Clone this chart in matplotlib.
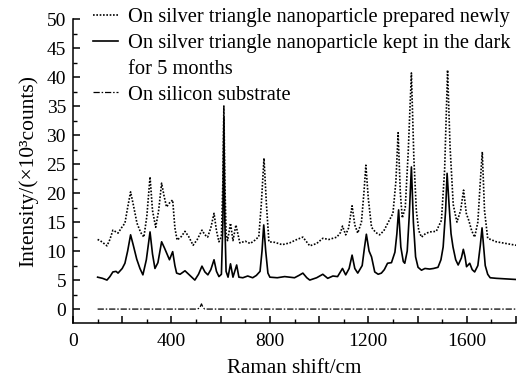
"""
Raman spectra: silver triangle nanoparticles (fresh / 5 months dark) and silicon substrate
"""
import matplotlib
matplotlib.use('Agg')
import matplotlib.pyplot as plt
from matplotlib.ticker import MultipleLocator, FuncFormatter
from matplotlib.lines import Line2D

plt.rcParams['font.family'] = ['Liberation Serif', 'DejaVu Serif']

# newly prepared (dotted)
x_new = [100, 110, 120, 138, 150, 162, 175, 183, 200, 211, 222, 234, 245, 260, 275, 288,
         300, 313, 323, 336, 348, 360, 370, 380, 394, 405, 414, 423, 440, 455, 470, 488,
         505, 524, 536, 547, 560, 573, 583, 593, 603, 609, 613, 617, 622, 628, 640, 650,
         662, 678, 700, 720, 740, 755, 765, 776, 786, 796, 820, 850, 880, 910, 934, 962,
         990, 1015, 1040, 1072, 1087, 1095, 1108, 1120, 1134, 1145, 1157, 1172, 1182, 1190,
         1200, 1213, 1230, 1246, 1263, 1279, 1300, 1312, 1321, 1330, 1338, 1350, 1362, 1375,
         1385, 1395, 1405, 1416, 1432, 1449, 1476, 1497, 1510, 1522, 1532, 1545, 1560, 1575,
         1587, 1598, 1608, 1620, 1632, 1645, 1655, 1663, 1672, 1685, 1720, 1760, 1800]
y_new = [12.0, 11.8, 11.5, 10.9, 12.0, 13.6, 13.3, 13.1, 14.2, 14.8, 17.5, 20.2, 18.0, 14.8, 13.2, 12.4,
         16.0, 22.8, 17.0, 14.1, 17.0, 21.7, 19.5, 17.6, 18.4, 18.8, 14.0, 11.9, 12.5, 13.4, 12.5, 11.0,
         12.0, 13.6, 12.8, 12.4, 14.0, 16.5, 13.5, 11.6, 12.5, 22.0, 35.0, 22.0, 13.0, 11.8, 14.8, 11.8,
         14.5, 11.4, 11.7, 11.3, 11.9, 12.5, 18.0, 26.0, 18.0, 11.6, 11.5, 11.1, 11.4, 12.0, 12.4, 10.9,
         11.3, 12.2, 12.0, 12.4, 13.2, 14.3, 12.8, 14.0, 17.8, 14.5, 13.1, 15.0, 20.0, 24.8,
         19.0, 14.1, 13.2, 12.8, 13.5, 14.8, 16.5, 22.0, 30.4, 20.0, 15.7, 17.5, 27.0, 40.7,
         26.0, 17.0, 13.5, 12.4, 13.0, 13.3, 13.4, 15.3, 24.0, 41.2, 28.0, 18.0, 15.0, 17.0,
         20.5, 16.5, 15.3, 13.5, 12.4, 15.0, 22.0, 27.1, 17.0, 12.2, 11.6, 11.3, 11.0]

# kept in the dark for 5 months (solid)
x_old = [100, 120, 138, 150, 162, 175, 183, 200, 211, 222, 234, 245, 259, 272, 284, 298,
         313, 323, 333, 345, 360, 372, 381, 392, 405, 414, 421, 435, 455, 475, 495, 510,
         524, 536, 548, 560, 573, 583, 593, 603, 609, 613, 617, 622, 630, 640, 650, 665,
         674, 690, 710, 730, 745, 760, 768, 775, 783, 792, 800, 830, 860, 880, 900, 918,
         934, 950, 962, 990, 1015, 1035, 1056, 1075, 1095, 1108, 1122, 1134, 1145, 1157,
         1175, 1184, 1192, 1203, 1213, 1226, 1240, 1253, 1265, 1278, 1294, 1308, 1316, 1323,
         1332, 1342, 1348, 1358, 1366, 1375, 1383, 1392, 1402, 1416, 1430, 1449, 1465, 1483,
         1495, 1504, 1514, 1520, 1528, 1536, 1544, 1555, 1565, 1578, 1586, 1593, 1599, 1612,
         1622, 1632, 1645, 1655, 1662, 1668, 1675, 1685, 1695, 1720, 1760, 1800]
y_old = [5.5, 5.3, 5.0, 5.6, 6.4, 6.5, 6.2, 7.0, 7.9, 10.0, 12.8, 11.0, 8.6, 7.0, 5.9, 8.5,
         13.3, 9.5, 7.0, 8.0, 11.6, 10.5, 9.6, 8.5, 9.9, 7.5, 6.2, 6.0, 6.6, 5.8, 5.0, 6.0,
         7.4, 6.4, 5.9, 6.8, 8.5, 6.5, 5.6, 6.0, 15.0, 33.0, 15.0, 6.5, 5.5, 7.8, 5.5, 7.6,
         5.5, 5.4, 5.7, 5.4, 5.8, 6.5, 10.0, 14.5, 10.0, 6.2, 5.5, 5.4, 5.6, 5.5, 5.4, 5.8,
         6.2, 5.4, 5.0, 5.4, 6.0, 5.3, 5.7, 5.6, 7.0, 5.9, 7.0, 9.3, 7.0, 6.2,
         7.5, 10.5, 12.9, 10.0, 9.0, 6.4, 6.0, 6.2, 6.8, 7.9, 8.0, 9.8, 13.0, 17.1,
         10.7, 8.2, 7.9, 10.0, 15.9, 24.5, 15.0, 9.0, 7.2, 6.7, 7.0, 6.9, 7.0, 7.2,
         8.5, 10.7, 17.0, 23.4, 18.0, 13.0, 10.7, 8.5, 7.6, 8.8, 10.3, 9.0, 7.3, 7.9,
         6.8, 6.4, 7.5, 11.0, 14.0, 11.0, 7.5, 6.0, 5.4, 5.3, 5.2, 5.1]

# silicon substrate (dash-dot)
x_si = [100, 505, 515, 522, 528, 535, 545, 1800]
y_si = [0.0, 0.0, 0.2, 0.9, 0.3, 0.0, 0.0, 0.0]

labels = ['On silver triangle nanoparticle prepared newly',
          'On silver triangle nanoparticle kept in the dark',
          'for 5 months',
          'On silicon substrate']

fig = plt.figure(figsize=(5.27, 3.83), dpi=100)
ax = fig.add_axes([73 / 527, 1 - 323 / 383, (516 - 73) / 527, (323 - 19) / 383])

dash_dot = (0, (5, 1.5, 1.2, 1.5))
h1, = ax.plot(x_new, y_new, color='black', lw=1.2, linestyle=(0, (1, 1)))
h2, = ax.plot(x_old, y_old, color='black', lw=1.2, linestyle='-')
h3, = ax.plot(x_si, y_si, color='black', lw=0.9, linestyle=dash_dot)

ax.set_xlim(0, 1800)
ax.set_ylim(-2.4, 50)
ax.spines['top'].set_visible(False)
ax.spines['right'].set_visible(False)
for s in ['left', 'bottom']:
    ax.spines[s].set_linewidth(1.1)

ax.xaxis.set_major_locator(MultipleLocator(200))
ax.xaxis.set_minor_locator(MultipleLocator(100))
ax.xaxis.set_major_formatter(FuncFormatter(lambda v, p: '%d' % v if v % 400 == 0 and v < 1800 else ''))
ax.yaxis.set_major_locator(MultipleLocator(5))
ax.yaxis.set_minor_locator(MultipleLocator(2.5))
ax.tick_params(which='major', direction='in', length=5, width=1.1, labelsize=14)
ax.tick_params(which='minor', direction='in', length=3, width=1.0)
ax.tick_params(axis='x', which='major', pad=7)
ax.tick_params(axis='y', which='major', pad=5)

ax.set_xlabel('Raman shift/cm', fontsize=15.2, labelpad=7)
ax.set_ylabel('Intensity/(×10³counts)', fontsize=15.5, labelpad=6)

blank = Line2D([], [], color='none')
ax.legend([h1, h2, blank, h3], labels, loc='upper left',
          bbox_to_anchor=(93 / 527, 1 - 8 / 383), bbox_transform=fig.transFigure,
          frameon=False, fontsize=14.8, handlelength=1.2, handletextpad=0.5,
          labelspacing=0.31, borderpad=0, borderaxespad=0)

plt.savefig('out.png', dpi=100)
